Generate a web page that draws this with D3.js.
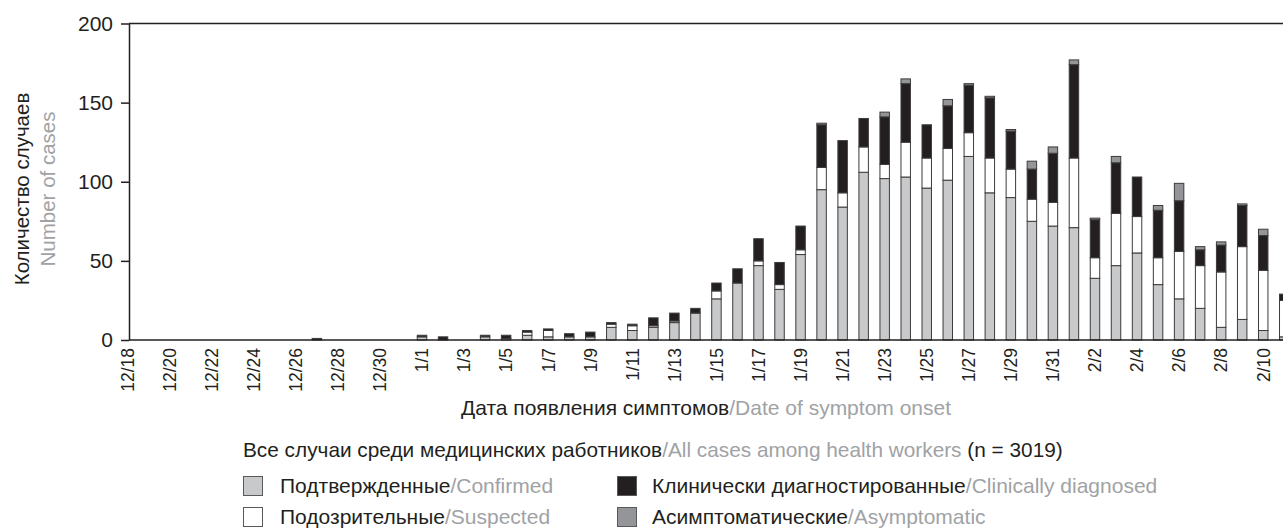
<!DOCTYPE html>
<html>
<head>
<meta charset="utf-8">
<script src="https://cdn.jsdelivr.net/npm/d3@7"></script>
<style>
  html, body { margin: 0; padding: 0; background: #fff; }
  svg { display: block; }
  text { font-family: "Liberation Sans", Arial, sans-serif; fill: #231f20; }
  .gray { fill: #a0a2a5; }
</style>
</head>
<body>
<svg id="chart" width="1283" height="529"></svg>
<script>
// ---- data ----
const dates = [
  "12/18","12/19","12/20","12/21","12/22","12/23","12/24","12/25","12/26","12/27","12/28","12/29","12/30","12/31",
  "1/1","1/2","1/3","1/4","1/5","1/6","1/7","1/8","1/9","1/10","1/11","1/12","1/13","1/14","1/15","1/16",
  "1/17","1/18","1/19","1/20","1/21","1/22","1/23","1/24","1/25","1/26","1/27","1/28","1/29","1/30","1/31",
  "2/1","2/2","2/3","2/4","2/5","2/6","2/7","2/8","2/9","2/10","2/11"
];
const confirmed = [
  0,0,0,0,0,0,0,0,0,0,0,0,0,0,
  2,0,0,2,1,3,2,2,2,8,6,8,11,17,26,36,
  47,32,54,95,84,106,102,103,96,101,116,93,90,75,72,
  71,39,47,55,35,26,20,8,13,6,2
];
const suspected = [
  0,0,0,0,0,0,0,0,0,0,0,0,0,0,
  0,0,0,0,0,2,4,0,0,2,3,1,1,0,5,0,
  3,3,3,14,9,16,9,22,19,20,15,22,18,14,15,
  44,13,33,23,17,30,27,35,46,38,23
];
const clinical = [
  0,0,0,0,0,0,0,0,0,1,0,0,0,0,
  1,2,0,1,2,1,1,2,3,1,1,5,5,3,5,9,
  14,14,15,27,33,18,30,37,21,27,30,38,24,19,31,
  59,24,32,25,30,32,10,17,26,22,4
];
const asymptomatic = [
  0,0,0,0,0,0,0,0,0,0,0,0,0,0,
  0,0,0,0,0,0,0,0,0,0,0,0,0,0,0,0,
  0,0,0,1,0,0,3,3,0,4,1,1,1,5,4,
  3,1,4,0,3,11,2,2,1,4,0
];
const tickLabels = [
  "12/18","12/20","12/22","12/24","12/26","12/28","12/30",
  "1/1","1/3","1/5","1/7","1/9","1/11","1/13","1/15","1/17","1/19","1/21","1/23","1/25","1/27","1/29","1/31",
  "2/2","2/4","2/6","2/8","2/10"
];
const yTicks = [0, 50, 100, 150, 200];
const seriesKeys = ["confirmed", "suspected", "clinical", "asymptomatic"];
const seriesRu = ["Подтвержденные", "Подозрительные", "Клинически диагностированные", "Асимптоматические"];
const seriesEn = ["Confirmed", "Suspected", "Clinically diagnosed", "Asymptomatic"];
const seriesColors = ["#c8c9cb", "#ffffff", "#231f20", "#939598"];

// ---- layout ----
const svg = d3.select("#chart");
const plotLeft = 129, plotTop = 23.5, plotBottom = 340, plotRight = 1300;
const step = 21.03;
const firstCenter = 127.6;

const x = d3.scaleBand()
  .domain(dates)
  .range([firstCenter - step / 2, firstCenter - step / 2 + step * dates.length])
  .paddingInner(0.55)
  .paddingOuter(0.275);

const y = d3.scaleLinear().domain([0, 200]).range([plotBottom, plotTop]);

const table = dates.map((d, i) => ({
  date: d,
  confirmed: confirmed[i],
  suspected: suspected[i],
  clinical: clinical[i],
  asymptomatic: asymptomatic[i]
}));
const stacked = d3.stack().keys(seriesKeys)(table);
const colorOf = d3.scaleOrdinal().domain(seriesKeys).range(seriesColors);

// bars
const gBars = svg.append("g");
stacked.forEach(layer => {
  gBars.append("g")
    .selectAll("rect")
    .data(layer.filter(d => d[1] - d[0] > 0))
    .join("rect")
    .attr("x", d => x(d.data.date))
    .attr("width", x.bandwidth())
    .attr("y", d => y(d[1]))
    .attr("height", d => y(d[0]) - y(d[1]))
    .attr("fill", colorOf(layer.key))
    .attr("stroke", "#3d3b3c")
    .attr("stroke-width", 1);
});

// frame
svg.append("line").attr("x1", plotLeft).attr("x2", plotRight).attr("y1", plotTop).attr("y2", plotTop)
  .attr("stroke", "#231f20").attr("stroke-width", 1.5);
svg.append("line").attr("x1", plotLeft).attr("x2", plotRight).attr("y1", plotBottom).attr("y2", plotBottom)
  .attr("stroke", "#231f20").attr("stroke-width", 1.5);

// y axis
const yAxis = svg.append("g")
  .attr("transform", `translate(${plotLeft},0)`)
  .call(d3.axisLeft(y).tickValues(yTicks).tickSize(8).tickSizeOuter(0).tickPadding(8));
yAxis.select(".domain").attr("stroke", "#231f20").attr("stroke-width", 1.5);
yAxis.selectAll(".tick line").attr("stroke", "#231f20").attr("stroke-width", 1.5);
yAxis.selectAll(".tick text")
  .style("font-family", '"Liberation Sans", Arial, sans-serif')
  .style("font-size", "21px").attr("fill", "#231f20");

// x axis
const xAxis = svg.append("g")
  .attr("transform", `translate(0,${plotBottom})`)
  .call(d3.axisBottom(x).tickValues(tickLabels).tickSize(0).tickPadding(0));
xAxis.select(".domain").remove();
xAxis.selectAll(".tick text")
  .style("font-family", '"Liberation Sans", Arial, sans-serif')
  .style("font-size", "17.5px").attr("fill", "#231f20")
  .attr("transform", "rotate(-90)")
  .attr("text-anchor", "end")
  .attr("x", -8)
  .attr("y", 0)
  .attr("dy", "0.36em");

// x axis title
const xt = svg.append("text").attr("x", 706).attr("y", 415).attr("text-anchor", "middle")
  .style("font-size", "21px");
xt.append("tspan").text("Дата появления симптомов");
xt.append("tspan").attr("class", "gray").text("/Date of symptom onset");

// y axis title
const yt = svg.append("g").attr("transform", "translate(0,189) rotate(-90)");
yt.append("text").attr("x", 0).attr("y", 29).attr("text-anchor", "middle")
  .style("font-size", "20.5px").text("Количество случаев");
yt.append("text").attr("x", 0).attr("y", 55).attr("text-anchor", "middle")
  .attr("class", "gray").style("font-size", "20.5px").text("Number of cases");

// legend
const lg = svg.append("g");
const head = lg.append("text").attr("x", 243).attr("y", 457).style("font-size", "20.8px");
head.append("tspan").text("Все случаи среди медицинских работников");
head.append("tspan").attr("class", "gray").text("/All cases among health workers ");
head.append("tspan").text("(n = 3019)");

const legendPos = [
  { bx: 243, tx: 280, by: 476, ty: 493 },
  { bx: 243, tx: 280, by: 507, ty: 524 },
  { bx: 617, tx: 652, by: 476, ty: 493 },
  { bx: 617, tx: 652, by: 507, ty: 524 }
];
seriesKeys.forEach((k, i) => {
  const p = legendPos[i];
  lg.append("rect").attr("x", p.bx + 0.5).attr("y", p.by + 0.5).attr("width", 19).attr("height", 19)
    .attr("fill", seriesColors[i]).attr("stroke", "#58595b").attr("stroke-width", 1);
  const t = lg.append("text").attr("x", p.tx).attr("y", p.ty).style("font-size", "21px");
  t.append("tspan").text(seriesRu[i]);
  t.append("tspan").attr("class", "gray").text("/" + seriesEn[i]);
});
</script>
</body>
</html>
